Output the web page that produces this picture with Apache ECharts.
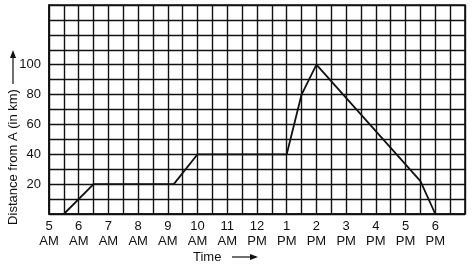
<!DOCTYPE html>
<html><head><meta charset="utf-8">
<script src="https://cdn.jsdelivr.net/npm/echarts@6/dist/echarts.min.js"></script>
<style>html,body{margin:0;padding:0;background:#fff}#c{width:474px;height:266px}</style>
</head><body><div id="c"></div>
<script>
// Time in hours (24h clock), distance in km
const times = [5.5, 6.5, 9.2, 10, 13, 13.5, 14, 17.5, 18];
const distances = [0, 20, 20, 40, 40, 80, 100, 22, 0];
const hourTicks = [5,6,7,8,9,10,11,12,13,14,15,16,17,18];
const yTickLabels = [20, 40, 60, 80, 100];
const xTitle = 'Time';
const yTitle = 'Distance from A (in km)';

const FONT = '"Liberation Sans", Arial, sans-serif';
const chart = echarts.init(document.getElementById('c'));
function hourLabel(v){
  if (Math.abs(v - Math.round(v)) > 1e-6) return '';
  const h = Math.round(v);
  if (hourTicks.indexOf(h) < 0) return '';
  const h12 = h > 12 ? h - 12 : h;
  return h12 + '\n' + (h >= 12 ? 'PM' : 'AM');
}
chart.setOption({
  animation: false,
  grid: {left: 49, top: 5, right: 9, bottom: 52},
  xAxis: {
    type: 'value', min: 5, max: 19, interval: 0.5,
    axisLine: {show: true, lineStyle: {color: '#111', width: 1.5}},
    axisTick: {show: false},
    splitLine: {show: true, lineStyle: {color: '#111', width: 1.4}},
    axisLabel: {formatter: hourLabel, color: '#111', fontSize: 13, lineHeight: 15, margin: 5, fontFamily: FONT, showMaxLabel: false}
  },
  yAxis: {
    type: 'value', min: 0, max: 140, interval: 10,
    axisLine: {show: true, lineStyle: {color: '#111', width: 1.5}},
    axisTick: {show: false},
    splitLine: {show: true, lineStyle: {color: '#111', width: 1.4}},
    axisLabel: {formatter: v => yTickLabels.indexOf(v) >= 0 ? String(v) : '', color: '#111', fontSize: 13, margin: 8, fontFamily: FONT}
  },
  series: [{
    type: 'line',
    data: times.map((t, i) => [t, distances[i]]),
    showSymbol: false,
    lineStyle: {color: '#111', width: 1.8}
  }],
  graphic: [
    {type: 'rect', shape: {x: 49, y: 5, width: 416, height: 209}, style: {fill: 'none', stroke: '#111', lineWidth: 1.6}, silent: true},
    {type: 'text', x: 193, y: 257, style: {text: xTitle, font: '13px ' + FONT, fill: '#111', textAlign: 'left', textVerticalAlign: 'middle'}},
    {type: 'line', shape: {x1: 232, y1: 257, x2: 256, y2: 257}, style: {stroke: '#111', lineWidth: 1.2}},
    {type: 'polygon', shape: {points: [[258, 257], [250, 254], [250, 260]]}, style: {fill: '#111'}},
    {type: 'text', x: 13, y: 157, rotation: Math.PI / 2, style: {text: yTitle, font: '13px ' + FONT, fill: '#111', textAlign: 'center', textVerticalAlign: 'middle'}},
    {type: 'line', shape: {x1: 13, y1: 84, x2: 13, y2: 56}, style: {stroke: '#111', lineWidth: 1.2}},
    {type: 'polygon', shape: {points: [[13, 50], [10, 58], [16, 58]]}, style: {fill: '#111'}}
  ]
});
</script></body></html>
